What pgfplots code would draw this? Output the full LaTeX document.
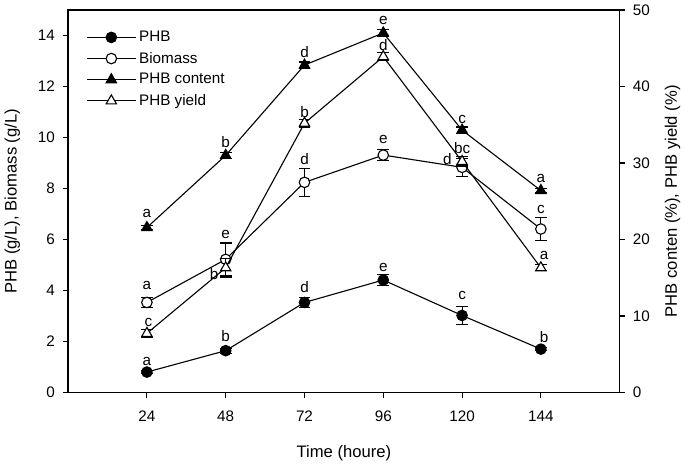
\documentclass[border=0pt]{standalone}
\usepackage{pgfplots}
\pgfplotsset{compat=1.18}
\usepackage{fontspec}
\setmainfont{Liberation Sans}
\begin{document}
\begin{tikzpicture}[font=\fontsize{11}{13}\selectfont]
\pgfplotsset{
  every axis/.append style={
    scale only axis, width=398pt, height=276pt,
    xmin=0, xmax=168,
    /pgf/number format/assume math mode=true,
    tick align=outside, major tick length=4pt,
    tick style={black, line width=0.8pt},
    axis line style={line width=0.9pt},
    label style={font=\fontsize{12}{14}\selectfont},
    every axis plot/.append style={line width=0.8pt},
    error bars/error bar style={line width=0.8pt},
    error bars/error mark options={rotate=90, mark size=4.3pt, line width=0.8pt},
  },
  phb/.style={black, mark=*, mark size=3.8pt, mark options={fill=black}},
  bio/.style={black, mark=*, mark size=3.8pt, mark options={fill=white}},
  cont/.style={black, mark=triangle*, mark size=4.3pt, mark options={fill=black}},
  yld/.style={black, mark=triangle*, mark size=4.3pt, mark options={fill=white}},
}
\begin{axis}[
  ymin=0, ymax=15,
  ytick={0,2,...,14}, xtick={24,48,72,96,120,144},
  ytick pos=left, xtick pos=bottom,
  xticklabel style={yshift=-6pt},
  yticklabel style={xshift=-2pt},
  xlabel={Time (houre)}, ylabel={PHB (g/L), Biomass (g/L)},
  xlabel style={yshift=-10pt}, ylabel style={yshift=6pt},
]
\addplot[phb, error bars/.cd, y dir=both, y explicit] coordinates {
 (24,0.80) +- (0,0.06) (48,1.64) +- (0,0.10) (72,3.53) +- (0,0.20)
 (96,4.41) +- (0,0.23) (120,3.02) +- (0,0.35) (144,1.70) +- (0,0.05)};
\addplot[bio, error bars/.cd, y dir=both, y explicit] coordinates {
 (24,3.53) +- (0,0.20) (48,5.22) +- (0,0.64) (72,8.24) +- (0,0.55)
 (96,9.31) +- (0,0.22) (120,8.83) +- (0,0.36) (144,6.41) +- (0,0.45)};
\node at (axis cs:24,1.20) {a};
\node at (axis cs:48,2.20) {b};
\node at (axis cs:72,4.14) {d};
\node at (axis cs:96,4.91) {e};
\node at (axis cs:120,3.79) {c};
\node at (axis cs:145,2.17) {b};
\node at (axis cs:24,4.18) {a};
\node at (axis cs:48,6.19) {e};
\node at (axis cs:72,9.16) {d};
\node at (axis cs:96,9.94) {e};
\node at (axis cs:115.5,9.16) {d};
\node at (axis cs:144,7.19) {c};
\end{axis}
\begin{axis}[
  ymin=0, ymax=50,
  axis y line*=right, axis x line=none,
  ytick={0,10,...,50},
  yticklabel style={xshift=2pt},
  ylabel={PHB conten (\%), PHB yield (\%)},
  ylabel style={yshift=-4pt},
  legend style={draw=none, fill=none, at={(0.025,0.96)}, anchor=north west,
    row sep=2pt, font=\fontsize{11}{12}\selectfont},
  legend cell align=left,
  legend image code/.code={\draw[mark repeat=2,mark phase=2,#1] plot coordinates {(0cm,0cm) (0.62cm,0cm) (1.24cm,0cm)};},
]
\addlegendimage{phb}\addlegendentry{PHB}
\addlegendimage{bio}\addlegendentry{Biomass}
\addplot[cont, error bars/.cd, y dir=both, y explicit] coordinates {
 (24,21.56) +- (0,0.3) (48,31.0) +- (0,0.4) (72,42.8) +- (0,0.4)
 (96,47.0) +- (0,0.4) (120,34.3) +- (0,0.4) (144,26.4) +- (0,0.3)};
\addlegendentry{PHB content}
\addplot[yld, error bars/.cd, y dir=both, y explicit] coordinates {
 (24,7.73) +- (0,0.5) (48,16.3) +- (0,1.2) (72,35.2) +- (0,0.5)
 (96,43.9) +- (0,0.5) (120,30.2) +- (0,0.6) (144,16.3) +- (0,0.4)};
\addlegendentry{PHB yield}
\node at (axis cs:24,23.45) {a};
\node at (axis cs:48,32.7) {b};
\node at (axis cs:72,44.5) {d};
\node at (axis cs:96,48.6) {e};
\node at (axis cs:120,35.7) {c};
\node at (axis cs:144,28.0) {a};
\node at (axis cs:24.5,9.15) {c};
\node at (axis cs:44.5,15.5) {b};
\node at (axis cs:72,36.6) {b};
\node at (axis cs:96,45.4) {d};
\node at (axis cs:120,32.0) {bc};
\node at (axis cs:145,17.9) {a};
\end{axis}
\end{tikzpicture}
\end{document}
